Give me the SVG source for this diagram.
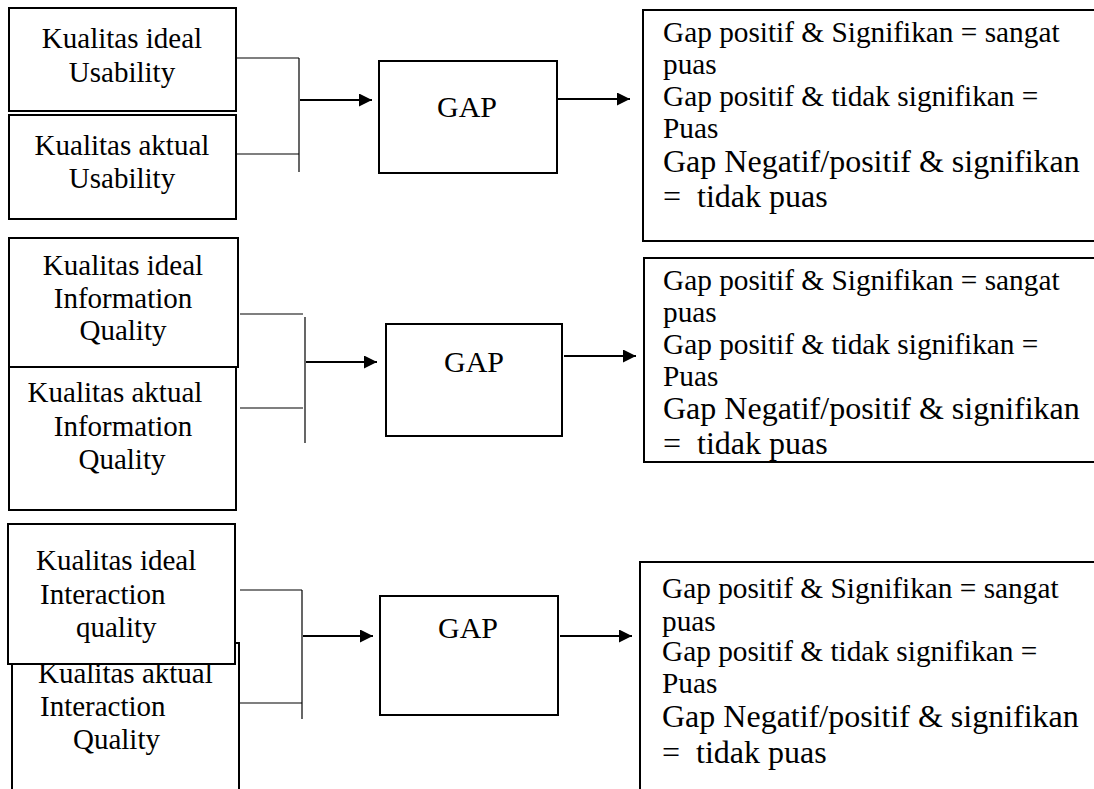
<svg xmlns="http://www.w3.org/2000/svg" width="1094" height="789" viewBox="0 0 1094 789">
<style>
.box{fill:#fff;stroke:#000;stroke-width:2}
text{font-family:"Liberation Serif","Times New Roman",serif;fill:#000}
.lt{font-size:29px}
.c{text-anchor:middle}
.g{font-size:30px;text-anchor:middle}
.r1{font-size:29.3px}
.r2{font-size:32px}
.thin{stroke:#000;stroke-width:1.2;fill:none}
.arr{stroke:#000;stroke-width:2;fill:none;marker-end:url(#ah)}
</style>
<defs>
<marker id="ah" markerUnits="userSpaceOnUse" markerWidth="14" markerHeight="14" refX="13" refY="6.5" orient="auto">
<path d="M0,0 L13,6.5 L0,13 z" fill="#000"/>
</marker>
</defs>
<rect width="1094" height="789" fill="#fff"/>

<g id="ideal-usability">
<rect class="box" x="9" y="8" width="227" height="103"/>
<text class="lt c" x="122" y="48">Kualitas ideal</text>
<text class="lt c" x="122" y="82">Usability</text>
</g>
<g id="aktual-usability">
<rect class="box" x="9" y="115" width="227" height="104"/>
<text class="lt c" x="122" y="155">Kualitas aktual</text>
<text class="lt c" x="122" y="188">Usability</text>
</g>
<g id="gap-1">
<rect class="box" x="379" y="61" width="178" height="112"/>
<text class="g" x="467" y="117">GAP</text>
</g>
<g id="result-1">
<rect class="box" x="643" y="10" width="460" height="231"/>
<text class="r1" x="663" y="42">Gap positif &amp; Signifikan = sangat</text>
<text class="r1" x="663" y="74">puas</text>
<text class="r1" x="663" y="106">Gap positif &amp; tidak signifikan =</text>
<text class="r1" x="663" y="138">Puas</text>
<text class="r2" x="663" y="172">Gap Negatif/positif &amp; signifikan</text>
<text class="r2" x="663" y="207">=&#160; tidak puas</text>
</g>

<g id="ideal-information">
<rect class="box" x="9" y="238" width="229" height="129"/>
<text class="lt c" x="123" y="275">Kualitas ideal</text>
<text class="lt c" x="123" y="308">Information</text>
<text class="lt c" x="123" y="340">Quality</text>
</g>
<g id="aktual-information">
<rect class="box" x="9" y="367" width="227" height="143"/>
<text class="lt c" x="115" y="402">Kualitas aktual</text>
<text class="lt c" x="123" y="436">Information</text>
<text class="lt c" x="122" y="469">Quality</text>
</g>
<g id="gap-2">
<rect class="box" x="386" y="324" width="176" height="112"/>
<text class="g" x="474" y="372">GAP</text>
</g>
<g id="result-2">
<rect class="box" x="644" y="258" width="460" height="204"/>
<text class="r1" x="663" y="290">Gap positif &amp; Signifikan = sangat</text>
<text class="r1" x="663" y="322">puas</text>
<text class="r1" x="663" y="354">Gap positif &amp; tidak signifikan =</text>
<text class="r1" x="663" y="386">Puas</text>
<text class="r2" x="663" y="419">Gap Negatif/positif &amp; signifikan</text>
<text class="r2" x="663" y="454">=&#160; tidak puas</text>
</g>

<g id="aktual-interaction">
<rect class="box" x="12" y="643" width="227" height="160"/>
<text class="lt" x="38" y="683">Kualitas aktual</text>
<text class="lt" x="40" y="716">Interaction</text>
<text class="lt" x="73" y="749">Quality</text>
</g>
<g id="ideal-interaction">
<rect class="box" x="8" y="524" width="227" height="140"/>
<text class="lt" x="36" y="570">Kualitas ideal</text>
<text class="lt" x="40" y="604">Interaction</text>
<text class="lt" x="76" y="637">quality</text>
</g>
<g id="gap-3">
<rect class="box" x="380" y="596" width="178" height="119"/>
<text class="g" x="468" y="638">GAP</text>
</g>
<g id="result-3">
<rect class="box" x="640" y="562" width="464" height="240"/>
<text class="r1" x="662" y="598">Gap positif &amp; Signifikan = sangat</text>
<text class="r1" x="662" y="631">puas</text>
<text class="r1" x="662" y="661">Gap positif &amp; tidak signifikan =</text>
<text class="r1" x="662" y="693">Puas</text>
<text class="r2" x="662" y="727">Gap Negatif/positif &amp; signifikan</text>
<text class="r2" x="662" y="763">=&#160; tidak puas</text>
</g>

<g id="connectors">
<path class="thin" d="M236,58 H299 M236,154 H299"/>
<path class="thin" stroke-width="1.6" d="M299,58 V172"/>
<path class="arr" d="M300,100 H372"/>
<path class="arr" d="M558,99 H630"/>
<path class="thin" d="M240,314 H303 M240,408 H303"/>
<path class="thin" stroke-width="2.5" d="M305,317 V443"/>
<path class="arr" d="M306,362 H377"/>
<path class="arr" d="M564,356 H636"/>
<path class="thin" d="M240,590 H302 M240,703 H302"/>
<path class="thin" stroke-width="2" d="M302,590 V719"/>
<path class="arr" d="M303,636 H373"/>
<path class="arr" d="M560,636 H632"/>
</g>
</svg>
